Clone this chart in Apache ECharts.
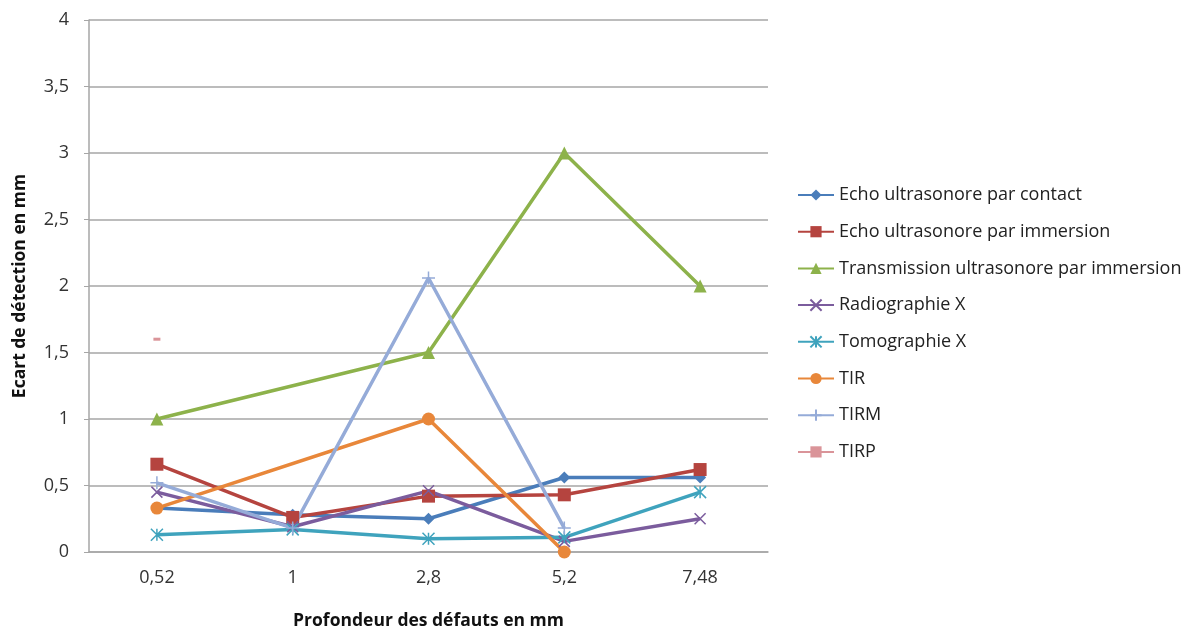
<!DOCTYPE html>
<html>
<head>
<meta charset="utf-8">
<script src="https://cdn.jsdelivr.net/npm/echarts@6/dist/echarts.min.js"></script>
<style>
    html, body { margin: 0; padding: 0; background: #fff; }
    #chart { width: 1190px; height: 630px; }
</style>
</head>
<body>
<div id="chart"></div>
<script type="text/javascript">
    // profondeurs (axe X)
    var profondeurs = ['0,52', '1', '2,8', '5,2', '7,48'];
    var yTicks = [0, 0.5, 1, 1.5, 2, 2.5, 3, 3.5, 4];

    var echoContact   = [0.33, 0.28, 0.25, 0.56, 0.56];
    var echoImmersion = [0.66, 0.26, 0.42, 0.43, 0.62];
    var transmission  = [1.0, null, 1.5, 3.0, 2.0];
    var radiographie  = [0.45, 0.19, 0.46, 0.08, 0.25];
    var tomographie   = [0.13, 0.17, 0.10, 0.11, 0.45];
    var tir           = [0.33, null, 1.0, 0.0, null];
    var tirm          = [0.52, 0.18, 2.06, 0.18, null];
    var tirp          = [1.6, null, null, null, null];

    var pathX = 'path://M0,0L10,10M10,0L0,10';
    var pathStar = 'path://M0,0L10,10M10,0L0,10M5,0L5,10';
    var pathPlus = 'path://M5,0L5,10M0,5L10,5';

    var font = 'Open Sans';
    var grey = '#A6A6A6';

    function serie(name, data, color, symbol, size, stroke) {
        var s = {
            name: name,
            type: 'line',
            data: data,
            connectNulls: true,
            symbol: symbol,
            symbolSize: size,
            lineStyle: { width: 3.5, color: color },
            itemStyle: { color: color }
        };
        if (stroke) {
            s.itemStyle = { color: color, borderColor: color, borderWidth: 1.5 };
        }
        return s;
    }

    var chart = echarts.init(document.getElementById('chart'));
    var option = {
        animation: false,
        grid: { left: 89, right: 422, top: 20, bottom: 78, outerBoundsMode: 'none' },
        legend: {
            orient: 'vertical',
            left: 792,
            top: 181,
            itemWidth: 36,
            itemHeight: 14,
            itemGap: 18.7,
            textStyle: { fontFamily: font, fontSize: 18, lineHeight: 18, color: '#222' }
        },
        xAxis: {
            type: 'category',
            data: profondeurs,
            boundaryGap: true,
            axisTick: { show: false },
            axisLine: { lineStyle: { color: grey, width: 1.5 } },
            axisLabel: { margin: 17, fontFamily: font, fontSize: 18, color: '#333' },
            name: 'Profondeur des défauts en mm',
            nameLocation: 'middle',
            nameGap: 60,
            nameTextStyle: { fontFamily: font, fontSize: 17.5, fontWeight: 'bold', color: '#111' }
        },
        yAxis: {
            type: 'value',
            min: yTicks[0],
            max: yTicks[yTicks.length - 1],
            interval: 0.5,
            axisLine: { show: true, lineStyle: { color: grey, width: 1.5 } },
            axisTick: { show: true, length: 5, lineStyle: { color: grey } },
            splitLine: { lineStyle: { color: grey, width: 1.5 } },
            axisLabel: {
                margin: 20, fontFamily: font, fontSize: 18, color: '#333',
                formatter: function (v) { return String(v).replace('.', ','); }
            },
            name: 'Ecart de détection en mm',
            nameLocation: 'middle',
            nameGap: 60,
            nameTextStyle: { fontFamily: font, fontSize: 17.5, fontWeight: 'bold', color: '#111' }
        },
        series: [
            serie('Echo ultrasonore par contact', echoContact, '#4A7DBA', 'diamond', 12),
            serie('Echo ultrasonore par immersion', echoImmersion, '#B5443F', 'rect', 13),
            serie('Transmission ultrasonore par immersion', transmission, '#8DB24B', 'triangle', 13),
            serie('Radiographie X', radiographie, '#7B5C9D', pathX, 11, true),
            serie('Tomographie X', tomographie, '#3FA3BD', pathStar, 12, true),
            serie('TIR', tir, '#E8873A', 'circle', 13),
            serie('TIRM', tirm, '#95ABD8', pathPlus, 13, true),
            serie('TIRP', tirp, '#DA9499', 'rect', [7, 3])
        ]
    };
    chart.setOption(option);
</script>
</body>
</html>
